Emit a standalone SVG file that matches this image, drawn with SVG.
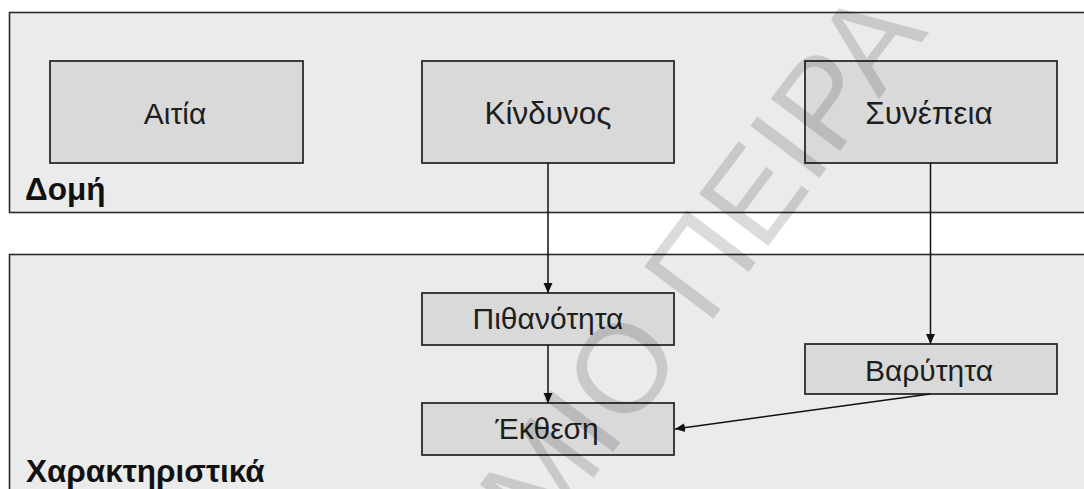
<svg xmlns="http://www.w3.org/2000/svg" width="1084" height="489" viewBox="0 0 1084 489">
  <defs>
    <style>
      .panel { fill: #ebebeb; stroke: #2b2b2b; stroke-width: 1.6; }
      .box { fill: #d9d9d9; stroke: #2b2b2b; stroke-width: 1.8; }
      .label { font-family: "Liberation Sans", Arial, sans-serif; font-size: 30px; fill: #1e1e1e; text-anchor: middle; }
      .label-lg { font-size: 31.5px; }
      .title { font-family: "Liberation Sans", Arial, sans-serif; font-size: 31.5px; font-weight: bold; fill: #111; }
      .edge { stroke: #111; stroke-width: 1.5; fill: none; marker-end: url(#arrow); }
      .mark { font-family: "Liberation Sans", Arial, sans-serif; font-size: 126px; fill: #000; fill-opacity: 0.14; }
    </style>
    <marker id="arrow" viewBox="0 0 10 10" refX="10" refY="5" markerWidth="10" markerHeight="11" markerUnits="userSpaceOnUse" orient="auto">
      <path d="M0,0.5 L10,5 L0,9.5 Z" fill="#111"/>
    </marker>
  </defs>

  <rect width="1084" height="489" fill="#ffffff"/>

  <!-- Structure layer -->
  <g id="panel-domi">
    <rect class="panel" x="9.5" y="12.5" width="1090" height="200"/>
    <text class="title" x="25" y="200">Δομή</text>
  </g>

  <!-- Characteristics layer -->
  <g id="panel-charakthristika">
    <rect class="panel" x="9.5" y="254.5" width="1090" height="250"/>
    <text class="title" x="26" y="482">Χαρακτηριστικά</text>
  </g>

  <g id="node-aitia">
    <rect class="box" x="50" y="61" width="253" height="102"/>
    <text class="label" x="175" y="124">Αιτία</text>
  </g>

  <g id="node-kindynos">
    <rect class="box" x="422" y="61" width="252" height="102"/>
    <text class="label label-lg" x="548" y="124">Κίνδυνος</text>
  </g>

  <g id="node-synepeia">
    <rect class="box" x="805" y="61" width="252" height="102"/>
    <text class="label label-lg" x="929" y="124">Συνέπεια</text>
  </g>

  <g id="node-pithanotita">
    <rect class="box" x="422" y="293" width="252" height="52"/>
    <text class="label" x="548" y="329">Πιθανότητα</text>
  </g>

  <g id="node-varytita">
    <rect class="box" x="805" y="344" width="252" height="50"/>
    <text class="label" x="929" y="381">Βαρύτητα</text>
  </g>

  <g id="node-ekthesi">
    <rect class="box" x="422" y="403" width="252" height="52"/>
    <text class="label" x="547" y="439">Έκθεση</text>
  </g>

  <g id="connectors">
    <line class="edge" x1="548" y1="163" x2="548" y2="293"/>
    <line class="edge" x1="548" y1="345" x2="548" y2="403"/>
    <line class="edge" x1="930.5" y1="163" x2="930.5" y2="344"/>
    <line class="edge" x1="930" y1="394" x2="675" y2="429"/>
  </g>

  <!-- watermark -->
  <text class="mark" transform="translate(543,545) rotate(-53)">ΜΙΟ ΠΕΙΡΑ</text>
</svg>
